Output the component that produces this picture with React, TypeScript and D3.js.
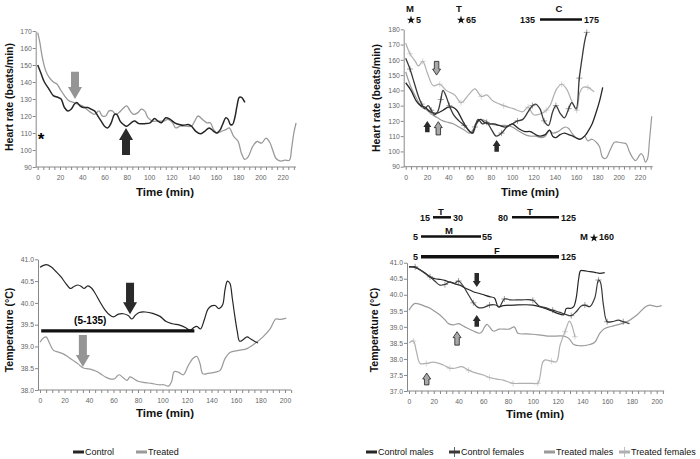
import { useEffect, useRef } from "react";
import * as d3 from "d3";

type Pt = [number, number];

// ---- heart rate, left panel (time min, beats/min)
const hrControl: Pt[] = [[0,150],[3,145],[6,140],[10,136],[14,132],[18,131],[21,130],[24,125],[27,123],[30,124],[33,127],[35,128],[38,126],[41,125],[45,125],[48,124],[51,123],[54,120],[57,117],[60,114],[63,113],[66,116],[69,121],[71,121],[74,117],[77,115],[80,114],[84,116],[87,117],[91,115.5],[96,115.5],[101,116],[105,118.5],[108,117],[111,116],[115,119],[119,118],[123,116],[127,115],[131,114.5],[135,115],[138,114],[142,111],[146,109.5],[150,111],[154,113],[158,111],[161,110],[164,112],[166,115],[169,119],[171,118],[173,115],[175,115],[177,119],[179,126],[181,131],[183,131],[186,128]];
const hrTreated: Pt[] = [[0,169],[2,163],[4,155],[7,147],[10,143],[14,140],[17,139],[20,136],[24,132],[28,129],[32,128],[36,127],[40,126],[44,124],[48,122],[51,121],[55,123],[58,120],[61,120],[64,123],[67,123],[70,121],[73,122],[76,124],[80,126],[83,123],[86,121],[90,122],[93,124],[96,123],[99,119],[103,117],[108,117],[113,117],[117,118],[121,116],[124,113],[128,114],[133,114],[138,114],[141,117],[144,120],[148,118],[152,116],[155,116],[158,112],[161,110],[165,111],[169,112],[172,113],[176,108],[180,105],[183,98],[186,94.5],[189,96],[193,102],[197,105],[201,104],[205,107],[208,105],[211,100],[214,95],[218,93.5],[222,94],[226,94],[228,101],[230,110],[232,116]];

// ---- heart rate, right panel
const hrControlMales: Pt[] = [[0,145],[5,140],[10,133],[14,130],[18,129],[23,126],[29,125],[35,127],[40,129],[44,129],[48,127],[52,122],[56,117],[60,113],[63,112],[66,118],[70,121],[74,119],[78,118],[83,118],[88,117],[94,116],[100,118],[106,115],[112,113],[117,113],[122,111],[126,110],[131,111],[135,114],[138,110],[141,109],[145,111],[149,112],[153,111],[157,110],[161,108.5],[164,108],[168,110],[171,113],[175,118],[179,126],[182,133],[185,142]];
const hrControlFemales: Pt[] = [[0,161],[4,154],[8,145],[12,136],[15,131],[18,128],[21,130],[24,127],[27,124],[30,126],[33,134],[35,140],[38,136],[41,130],[45,124],[50,120],[55,117],[59,114],[62,112],[65,116],[68,121],[72,118],[76,119],[80,115],[85,110],[90,112],[95,116],[100,118],[105,120],[110,121],[115,126],[119,130],[122,131],[126,128],[130,120],[134,117],[138,126],[141,130],[145,125],[149,122],[153,128],[156,132],[160,128],[163,148],[166,163],[168,172],[170,178]];
const hrTreatedMales: Pt[] = [[0,152],[5,142],[10,135],[15,129],[20,127],[25,124],[30,122],[35,120],[40,119],[45,118],[50,116],[55,114],[60,112],[65,116],[70,121],[75,120],[80,118],[88,117],[95,117],[100,116],[107,113],[112,111],[117,110],[122,110],[127,109],[131,110],[135,114],[138,112],[143,113],[147,115],[150,116],[153,115],[156,112],[160,109],[164,108],[168,110],[171,107],[175,108],[179,106],[182,103],[185,96],[188,95.5],[192,101],[196,106],[200,106],[204,105.5],[207,105],[210,100],[213,96],[216,94],[219,97],[221,98.5],[223,97],[225,93],[227,95],[229,108],[231,123]];
const hrTreatedFemales: Pt[] = [[0,171],[4,164],[9,159],[12,156],[16,159],[20,152],[26,143],[32,144],[38,140],[46,137],[52,132],[59,137],[65,141],[71,136],[76,137],[82,133],[92,130],[101,128],[110,126],[115,129],[120,124],[128,125],[132,127],[135.5,130],[141.8,141],[146.5,144],[151,141],[155.6,133.5],[160.5,127],[163.6,139],[166.7,142],[171,142],[177,139]];

// ---- temperature, left panel (°C)
const tControl: Pt[] = [[0,40.82],[5,40.88],[9,40.83],[13,40.72],[17,40.6],[21,40.45],[25,40.33],[28,40.38],[31,40.41],[34,40.37],[36,40.33],[39,40.39],[42,40.34],[45,40.22],[49,40.02],[53,39.84],[57,39.72],[60,39.68],[64,39.74],[68,39.75],[72,39.71],[75,39.63],[78,39.72],[81,39.78],[86,39.79],[92,39.76],[98,39.69],[103,39.57],[108,39.52],[114,39.49],[119,39.43],[122.5,39.37],[125,39.42],[128,39.46],[131,39.4],[134,39.6],[137,39.85],[140,39.93],[143,39.94],[146,39.87],[149,39.95],[151,40.3],[153,40.5],[155,40.45],[157,40.1],[159,39.7],[161,39.35],[163,39.12],[166,39.16],[169,39.22],[172,39.17],[175,39.12],[178,39.08]];
const tTreated: Pt[] = [[0,39.1],[3,39.2],[5,39.22],[8,39.06],[11,38.91],[15,38.87],[19,38.83],[23,38.76],[27,38.68],[31,38.6],[35,38.51],[38,38.49],[41,38.48],[46,38.43],[50,38.36],[54,38.29],[58,38.25],[61,38.26],[64.5,38.35],[68,38.28],[71,38.22],[73.5,38.3],[76,38.27],[80,38.2],[86,38.17],[91,38.15],[97,38.12],[101,38.12],[105,38.09],[107.5,38.2],[109.5,38.42],[113,38.41],[117,38.35],[121,38.56],[125,38.73],[128,38.77],[130.5,38.62],[133,38.37],[137,38.38],[143,38.41],[147,38.45],[151,38.72],[155,38.86],[162,38.91],[169,38.95],[177,39.1],[182,39.22],[188,39.41],[192.5,39.63],[196,39.62],[201,39.65]];

// ---- temperature, right panel
const tControlMales: Pt[] = [[0,40.88],[4,40.86],[9,40.78],[13,40.68],[17,40.55],[21,40.5],[25,40.48],[29,40.45],[33,40.39],[37,40.34],[41,40.3],[45,40.22],[49,40.15],[53,40.08],[57,40.04],[61,39.99],[65,39.94],[69,39.9],[72,39.63],[76,39.66],[85,39.68],[100,39.68],[108,39.6],[115,39.5],[120,39.42],[125,39.38],[127,39.57],[131,39.58],[133,39.63],[135,39.9],[137,40.5],[138.5,40.75],[141,40.75],[146,40.72],[150,40.7],[154,40.67],[158,40.69]];
const tControlFemales: Pt[] = [[0,40.86],[5,40.87],[9,40.77],[13,40.66],[17,40.56],[21,40.42],[25,40.3],[29,40.32],[33,40.4],[37,40.36],[40,40.43],[44,40.26],[48,40.0],[52,39.75],[56,39.6],[60,39.6],[65,39.68],[70,39.68],[73,39.62],[77,39.87],[82,39.84],[90,39.84],[100,39.83],[105,39.65],[110,39.6],[116,39.52],[122,39.45],[127,39.38],[131,39.35],[135,39.47],[139,39.65],[142,39.68],[146,39.63],[150,39.9],[153,40.46],[154.5,40.4],[157,39.68],[160,39.16],[164,39.16],[169,39.21],[173,39.16],[178,39.1]];
const tTreatedMales: Pt[] = [[0,39.52],[3,39.68],[5,39.73],[9,39.7],[13,39.64],[17,39.58],[21,39.48],[25,39.37],[29,39.22],[32,39.1],[36,39.06],[40,39.1],[45,39.0],[52,38.87],[57,38.8],[59,38.85],[61,39.0],[63,39.08],[65,39.0],[68,38.87],[73,38.93],[81,38.93],[85,39.0],[88,38.8],[95,38.78],[100,38.77],[107,38.74],[114,38.71],[125,38.71],[129,38.64],[133,38.45],[138,38.41],[146,38.45],[150,38.52],[154,38.8],[158,38.95],[168,39.06],[176,39.16],[184,39.37],[191,39.63],[194.5,39.68],[200,39.63],[204,39.66]];
const tTreatedFemales: Pt[] = [[0,38.5],[3.5,38.56],[6,38.23],[9,37.86],[14,37.86],[19.6,37.9],[27.7,37.81],[33,37.71],[37,37.71],[42.5,37.76],[48,37.65],[55,37.55],[60,37.5],[65,37.42],[71,37.37],[76,37.34],[84,37.24],[92,37.24],[100,37.24],[104,37.24],[108,37.9],[110,37.97],[115,37.93],[119,37.91],[122,38.43],[126,38.85],[129.5,39.18],[131,39.1],[134,38.69]];

// ---- ticks
const hrTicksLeft = [90, 100, 110, 120, 130, 140, 150, 160, 170];
const hrTicksRight = [90, 100, 110, 120, 130, 140, 150, 160, 170, 180];
const tempTicksLeft = [38, 38.5, 39, 39.5, 40, 40.5, 41];
const tempTicksRight = [37, 37.5, 38, 38.5, 39, 39.5, 40, 40.5, 41];
const timeTicks220 = [0, 20, 40, 60, 80, 100, 120, 140, 160, 180, 200, 220];
const timeTicks200 = [0, 20, 40, 60, 80, 100, 120, 140, 160, 180, 200];

const legendLeft = ["Control", "Treated"];
const legendRight = ["Control males", "Control females", "Treated males", "Treated females"];

const DARK = "#262626";
const DARK2 = "#3a3a3a";
const GREY = "#9a9a9a";
const GREY2 = "#b0b0b0";
const FONT = "'Liberation Sans', Arial, sans-serif";

// arrow: [t, tail value, tip value, kind]
type Arrow = [number, number, number, "dark" | "grey" | "open"];

const panels = [
  {
    xr: [37.7, 282.7], xd: [0, 220], yr: [167, 31], yd: [90, 170], xEnd: 232,
    yTicks: hrTicksLeft, xTicks: timeTicks220, fmt: d3.format("d"),
    yTitle: "Heart rate (beats/min)", yTitlePos: [13, 97], xTitlePos: [165, 196],
    series: [
      { data: hrTreated, color: GREY, w: 1.3, marks: false },
      { data: hrControl, color: DARK, w: 1.5, marks: false },
    ],
    arrows: [[33.5, 146, 130, "grey"], [79.3, 97, 113, "dark"]] as Arrow[],
    big: true,
  },
  {
    xr: [405.7, 640], xd: [0, 220], yr: [166.7, 29.3], yd: [90, 180], xEnd: 232,
    yTicks: hrTicksRight, xTicks: timeTicks220, fmt: d3.format("d"),
    yTitle: "Heart rate (beats/min)", yTitlePos: [380, 98], xTitlePos: [530, 196],
    series: [
      { data: hrTreatedMales, color: GREY, w: 1.2, marks: false },
      { data: hrTreatedFemales, color: GREY2, w: 1.2, marks: true },
      { data: hrControlMales, color: DARK, w: 1.3, marks: false },
      { data: hrControlFemales, color: DARK2, w: 1.3, marks: true },
    ],
    arrows: [[29, 159, 150, "open"], [20.3, 112.5, 120, "dark"], [30.6, 110.8, 119.5, "open"], [85.4, 99.8, 107.5, "dark"]] as Arrow[],
    big: false,
  },
  {
    xr: [40, 285], xd: [0, 200], yr: [390, 259.3], yd: [38, 41], xEnd: 205,
    yTicks: tempTicksLeft, xTicks: timeTicks200, fmt: d3.format(".1f"),
    yTitle: "Temperature (°C)", yTitlePos: [13, 330], xTitlePos: [165, 417],
    series: [
      { data: tTreated, color: GREY, w: 1.2, marks: false },
      { data: tControl, color: DARK, w: 1.2, marks: false },
    ],
    arrows: [[73.5, 40.46, 39.74, "dark"], [35, 39.26, 38.53, "grey"]] as Arrow[],
    big: true,
  },
  {
    xr: [409, 656.7], xd: [0, 200], yr: [391, 262.7], yd: [37, 41], xEnd: 206,
    yTicks: tempTicksRight, xTicks: timeTicks200, fmt: d3.format(".1f"),
    yTitle: "Temperature (°C)", yTitlePos: [378, 330], xTitlePos: [535, 418],
    series: [
      { data: tTreatedMales, color: GREY, w: 1.2, marks: false },
      { data: tTreatedFemales, color: GREY2, w: 1.2, marks: true },
      { data: tControlMales, color: DARK, w: 1.2, marks: false },
      { data: tControlFemales, color: DARK2, w: 1.2, marks: true },
    ],
    arrows: [[54.7, 40.68, 40.24, "dark"], [54.7, 39.0, 39.37, "dark"], [38.8, 38.43, 38.85, "open"], [14.3, 37.19, 37.56, "open"]] as Arrow[],
    big: false,
  },
];

function drawArrow(g: any, cx: number, yTail: number, yTip: number, kind: string, big: boolean) {
  const sw = big ? 8 : 4.5;
  const hw = big ? 14 : 8;
  const hh = big ? 12 : 6;
  const dir = yTip > yTail ? 1 : -1;
  const yb = yTip - dir * hh;
  const pts = [
    [cx - sw / 2, yTail], [cx + sw / 2, yTail], [cx + sw / 2, yb], [cx + hw / 2, yb],
    [cx, yTip], [cx - hw / 2, yb], [cx - sw / 2, yb],
  ];
  const fill = kind === "dark" ? "#2a2a2a" : kind === "grey" ? "#959595" : "#a8a8a8";
  g.append("polygon")
    .attr("points", pts.map((p) => p.join(",")).join(" "))
    .attr("fill", fill)
    .attr("stroke", kind === "open" ? "#222" : "none")
    .attr("stroke-width", 0.8);
}

export default function App() {
  const svgRef = useRef<SVGSVGElement>(null);

  useEffect(() => {
    const svg = d3.select(svgRef.current);
    svg.selectAll("*").remove();

    panels.forEach((p) => {
      const x = d3.scaleLinear().domain(p.xd).range(p.xr);
      const y = d3.scaleLinear().domain(p.yd).range(p.yr);
      const g = svg.append("g");
      const ax = p.xr[0] - 2;
      const yBottom = p.yr[0];

      // y axis
      const ya = g.append("g").attr("transform", `translate(${ax},0)`)
        .call(d3.axisLeft(y).tickValues(p.yTicks).tickSize(3).tickSizeOuter(0).tickFormat(p.fmt as any));
      ya.select(".domain").attr("stroke", "#888");
      ya.selectAll("line").attr("stroke", "#888");
      ya.selectAll("text").attr("fill", "#666").style("font-size", "6.8px").style("font-family", FONT).attr("x", -4);

      // x axis (minor ticks every 5 min)
      const minor = d3.range(0, p.xEnd + 0.1, 5);
      const xa = g.append("g").attr("transform", `translate(0,${yBottom})`)
        .call(d3.axisBottom(x).tickValues(minor).tickSize(3).tickSizeOuter(0)
          .tickFormat((d: any) => (p.xTicks.includes(d) ? String(d) : "")));
      xa.select(".domain").remove();
      xa.selectAll("line").attr("stroke", "#888");
      xa.selectAll("text").attr("fill", "#666").style("font-size", "6.8px").style("font-family", FONT).attr("y", 8);
      g.append("line").attr("x1", ax).attr("x2", x(p.xEnd)).attr("y1", yBottom).attr("y2", yBottom).attr("stroke", "#888");

      // titles
      g.append("text")
        .attr("transform", `translate(${p.yTitlePos[0]},${p.yTitlePos[1]}) rotate(-90)`)
        .attr("text-anchor", "middle").style("font-family", FONT).style("font-weight", "bold")
        .style("font-size", "10.5px").attr("fill", "#111").text(p.yTitle);
      g.append("text")
        .attr("x", p.xTitlePos[0]).attr("y", p.xTitlePos[1])
        .attr("text-anchor", "middle").style("font-family", FONT).style("font-weight", "bold")
        .style("font-size", "11.5px").attr("fill", "#111").text("Time (min)");

      // lines
      const line = d3.line<Pt>().x((d) => x(d[0])).y((d) => y(d[1])).curve(d3.curveCatmullRom.alpha(0.5));
      p.series.forEach((s) => {
        g.append("path").attr("d", line(s.data)).attr("fill", "none")
          .attr("stroke", s.color).attr("stroke-width", s.w);
        if (s.marks) {
          s.data.filter((_, i) => i % 3 === 1).forEach((d) => {
            const cx = x(d[0]), cy = y(d[1]);
            g.append("path").attr("d", `M${cx - 3},${cy}H${cx + 3}M${cx},${cy - 3}V${cy + 3}`)
              .attr("stroke", s.color).attr("stroke-width", 0.6).attr("opacity", 0.8);
          });
        }
      });

      // arrows
      p.arrows.forEach((a) => drawArrow(g, x(a[0]), y(a[1]), y(a[2]), a[3], p.big));

      // panel-specific notes
      if (p === panels[0]) {
        g.append("text").attr("x", x(3)).attr("y", y(108) + 9).attr("text-anchor", "middle")
          .style("font-family", FONT).style("font-size", "17px").style("font-weight", "bold").text("*");
      }
      if (p === panels[2]) {
        g.append("line").attr("x1", x(1)).attr("x2", x(126)).attr("y1", y(39.355)).attr("y2", y(39.355))
          .attr("stroke", "#111").attr("stroke-width", 3.2);
        g.append("text").attr("x", x(41)).attr("y", y(39.355) - 7).attr("text-anchor", "middle")
          .style("font-family", FONT).style("font-size", "10px").style("font-weight", "bold").text("(5-135)");
      }
    });

    const txt = (x: number, y: number, s: string, size = 9, anchor = "start") =>
      svg.append("text").attr("x", x).attr("y", y).attr("text-anchor", anchor)
        .style("font-family", FONT).style("font-weight", "bold").style("font-size", `${size}px`)
        .attr("fill", "#111").text(s);
    const star = (x: number, y: number) =>
      svg.append("path").attr("d", d3.symbol(d3.symbolStar, 22)()).attr("transform", `translate(${x},${y})`).attr("fill", "#111");
    const bar = (x1: number, x2: number, y: number, w: number) =>
      svg.append("line").attr("x1", x1).attr("x2", x2).attr("y1", y).attr("y2", y).attr("stroke", "#111").attr("stroke-width", w);

    // heart-rate header notes
    txt(410, 12, "M", 9.5, "middle");
    star(411, 20); txt(416, 23, "5");
    txt(459, 12, "T", 9.5, "middle");
    star(461, 20); txt(466, 23, "65");
    txt(559, 12, "C", 9.5, "middle");
    txt(535, 23, "135", 9, "end"); bar(540, 582, 19.5, 2.5); txt(584, 23, "175");

    // temperature header notes
    txt(430, 220.5, "15", 9, "end"); bar(433, 451, 217.3, 2.5); txt(441, 214.5, "T", 9.5, "middle"); txt(453, 220.5, "30");
    txt(508, 220.5, "80", 9, "end"); bar(512, 559, 217.3, 2.5); txt(530, 214.5, "T", 9.5, "middle"); txt(561, 220.5, "125");
    txt(418, 240, "5", 9, "end"); bar(421, 481, 236.5, 2.5); txt(449, 234, "M", 9.5, "middle"); txt(482, 240, "55");
    txt(580, 240, "M", 9.5); star(594, 238); txt(599, 240, "160");
    txt(418, 260, "5", 9, "end"); bar(421, 559, 256.7, 3.5); txt(497, 253.5, "F", 9.5, "middle"); txt(561, 260, "125");

    // legends
    const legItem = (x: number, label: string, color: string, tick: boolean) => {
      svg.append("rect").attr("x", x).attr("y", 450.5).attr("width", 11).attr("height", 3).attr("fill", color);
      if (tick) svg.append("line").attr("x1", x + 5.5).attr("x2", x + 5.5).attr("y1", 447).attr("y2", 457).attr("stroke", color).attr("stroke-width", 0.8);
      svg.append("text").attr("x", x + 12).attr("y", 455).style("font-family", FONT).style("font-size", "9px")
        .attr("fill", "#111").text(label);
    };
    legItem(73, legendLeft[0], DARK, false);
    legItem(136, legendLeft[1], GREY, false);
    legItem(366, legendRight[0], DARK, false);
    legItem(449, legendRight[1], DARK2, true);
    legItem(544, legendRight[2], GREY, false);
    legItem(619, legendRight[3], GREY2, true);
  }, []);

  return (
    <svg ref={svgRef} width={700} height={459}
      style={{ position: "absolute", left: 0, top: 0, background: "#fff" }} />
  );
}
